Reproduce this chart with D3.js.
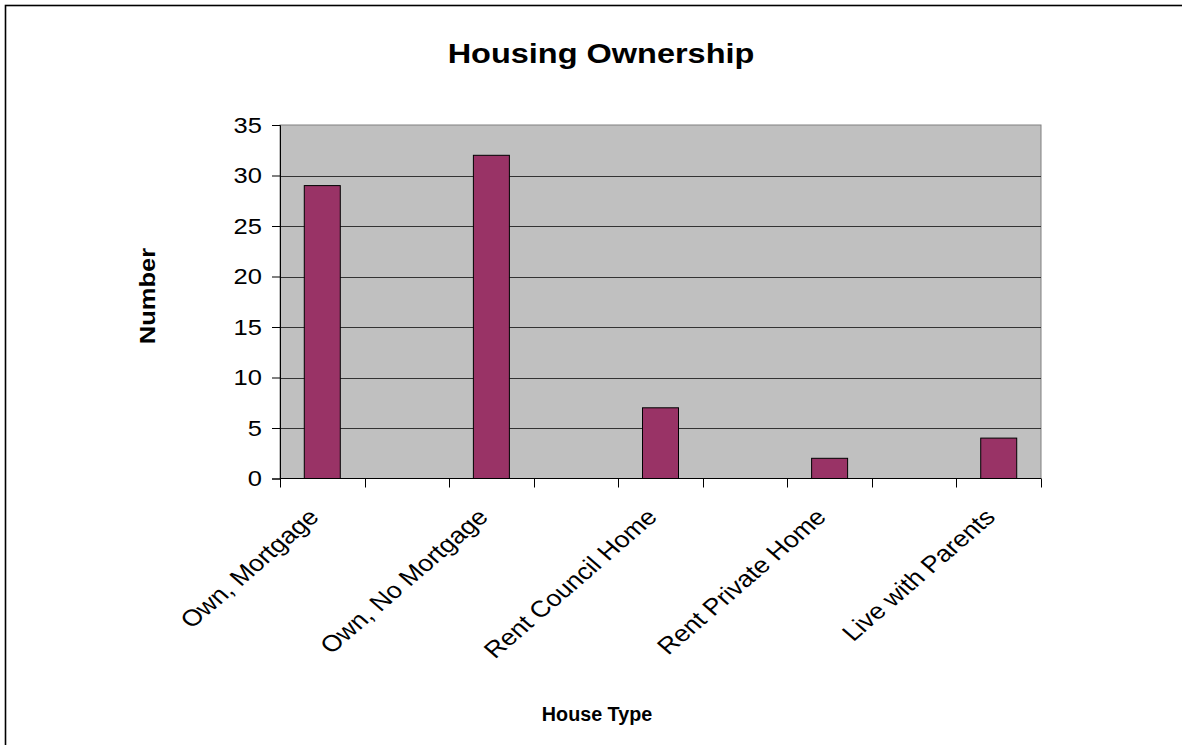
<!DOCTYPE html>
<html>
<head>
<meta charset="utf-8">
<script src="https://cdn.jsdelivr.net/npm/d3@7"></script>
<style>
  body { margin: 0; background: #fff; }
  text { font-family: "Liberation Sans", Arial, sans-serif; fill: #000; }
</style>
</head>
<body>
<div id="container"></div>
<script>
var width = 1182;
var height = 745;

// data - blank slots sit between the labelled categories like in the original sheet
var categories = ["Own, Mortgage", "", "Own, No Mortgage", "", "Rent Council Home", "", "Rent Private Home", "", "Live with Parents"];
var values = [29, null, 32, null, 7, null, 2, null, 4];
var yTicks = [0, 5, 10, 15, 20, 25, 30, 35];

var sx = 1.16; // text in the picture is a bit stretched sideways

var plot = {left: 280, right: 1041, top: 125, bottom: 478.5};

var svg = d3.select("div#container")
	.append("svg")
	.attr("width", width)
	.attr("height", height);

// outer frame (only top and left show)
svg.append("rect")
	.attr("x", 5.5)
	.attr("y", 5.5)
	.attr("width", width + 20)
	.attr("height", height + 20)
	.attr("fill", "#fff")
	.attr("stroke", "#000")
	.attr("stroke-width", 1.6);

var x = d3.scaleBand()
	.domain(d3.range(categories.length))
	.range([plot.left, plot.right])
	.paddingInner(0)
	.paddingOuter(0);

var y = d3.scaleLinear()
	.domain([0, 35])
	.range([plot.bottom, plot.top]);

// plot area background
svg.append("rect")
	.attr("x", plot.left)
	.attr("y", plot.top)
	.attr("width", plot.right - plot.left)
	.attr("height", plot.bottom - plot.top)
	.attr("fill", "#c0c0c0")
	.attr("stroke", "#808080")
	.attr("stroke-width", 1);

// gridlines
svg.append("g")
	.selectAll("line")
	.data(yTicks.filter(function(d){ return d > 0 && d < 35; }))
	.enter()
	.append("line")
	.attr("x1", plot.left)
	.attr("x2", plot.right)
	.attr("y1", function(d){ return Math.round(y(d)) + 0.5; })
	.attr("y2", function(d){ return Math.round(y(d)) + 0.5; })
	.attr("stroke", "#333")
	.attr("stroke-width", 1);

// bars
var barW = 36;
svg.append("g")
	.selectAll("rect")
	.data(values.map(function(v, i){ return {i: i, v: v}; }).filter(function(d){ return d.v !== null; }))
	.enter()
	.append("rect")
	.attr("x", function(d){ return x(d.i) + x.bandwidth()/2 - barW/2; })
	.attr("y", function(d){ return y(d.v); })
	.attr("width", barW)
	.attr("height", function(d){ return y(0) - y(d.v); })
	.attr("fill", "#993366")
	.attr("stroke", "#000")
	.attr("stroke-width", 1);

// y axis
var yAxis = svg.append("g")
	.attr("transform", "translate(" + plot.left + ",0)")
	.call(d3.axisLeft(y).tickValues(yTicks).tickSize(8).tickPadding(10));
yAxis.select(".domain").attr("stroke", "#000");
yAxis.selectAll(".tick line").attr("stroke", "#000");
yAxis.selectAll(".tick text")
	.attr("font-size", 22)
	.attr("font-family", "Liberation Sans, Arial, sans-serif")
	.attr("transform", function(){
		var xx = +d3.select(this).attr("x");
		d3.select(this).attr("x", 0);
		return "translate(" + xx + ",0) scale(" + sx + ",1)";
	});

// x axis: ticks at every band edge
var edges = d3.range(categories.length + 1).map(function(i){ return plot.left + i * x.bandwidth(); });
var xAxis = svg.append("g");
xAxis.append("line")
	.attr("x1", plot.left).attr("x2", plot.right)
	.attr("y1", plot.bottom).attr("y2", plot.bottom)
	.attr("stroke", "#000");
xAxis.selectAll("line.tk")
	.data(edges)
	.enter()
	.append("line")
	.attr("class", "tk")
	.attr("x1", function(d){ return Math.round(d) + 0.5; })
	.attr("x2", function(d){ return Math.round(d) + 0.5; })
	.attr("y1", plot.bottom)
	.attr("y2", plot.bottom + 9)
	.attr("stroke", "#000");

xAxis.selectAll("text")
	.data(categories.map(function(c, i){ return {c: c, i: i}; }).filter(function(d){ return d.c !== ""; }))
	.enter()
	.append("text")
	.text(function(d){ return d.c; })
	.attr("font-size", 23)
	.attr("text-anchor", "end")
	.attr("transform", function(d){
		var cx = x(d.i) + x.bandwidth()/2;
		return "translate(" + (cx - 2) + "," + (plot.bottom + 40) + ") scale(" + sx + ",1) rotate(-45)";
	});

// titles
svg.append("text")
	.text("Housing Ownership")
	.attr("font-size", 28)
	.attr("font-weight", "bold")
	.attr("text-anchor", "middle")
	.attr("transform", "translate(601,63) scale(" + sx + ",1)");

svg.append("text")
	.text("House Type")
	.attr("font-size", 21)
	.attr("font-weight", "bold")
	.attr("text-anchor", "middle")
	.attr("transform", "translate(597,721) scale(0.94,1)");

svg.append("text")
	.text("Number")
	.attr("font-size", 22)
	.attr("font-weight", "bold")
	.attr("text-anchor", "middle")
	.attr("transform", "translate(155,296) rotate(-90) scale(" + sx + ",1)");
</script>
</body>
</html>
